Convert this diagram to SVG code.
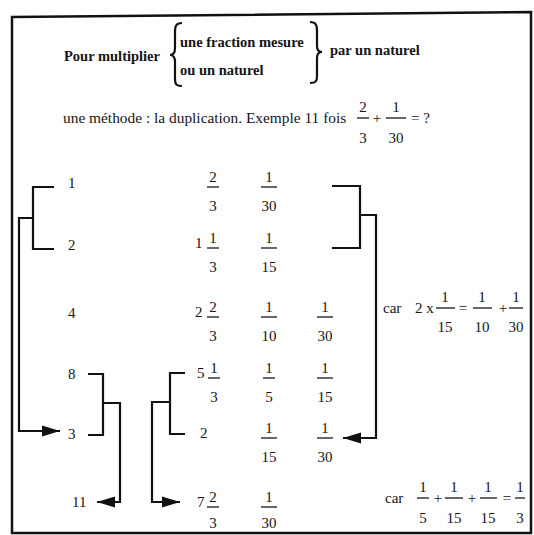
<svg xmlns="http://www.w3.org/2000/svg" width="534" height="535" viewBox="0 0 534 535">
<defs>
<style>
text{font-family:"Liberation Serif","Times New Roman",serif;fill:#151515}
.t{font-size:15px}
.b{font-size:14.5px;font-weight:bold}
.m{font-size:15px;text-anchor:middle}
.bar{stroke:#151515;stroke-width:1.3}
.ln{stroke:#111;stroke-width:2.2;fill:none}
.fr{stroke:#111;stroke-width:2.5;fill:none}
</style>
<marker id="ah" markerUnits="userSpaceOnUse" markerWidth="18" markerHeight="12" refX="18" refY="6" orient="auto">
<path d="M0,0.5 L18,6 L0,11.5 Z" fill="#111"/>
</marker>
</defs>
<rect width="534" height="535" fill="#fff"/>
<path class="fr" d="M12,17 L531,12 L531,533 L12,533 Z"/>

<g id="title">
<text class="b" x="64" y="61">Pour multiplier</text>
<path class="ln" stroke-width="1.8" d="M182,23 C176,23 175,26 175,32 L175,48 C175,53 173,55 170,55 C173,55 175,57 175,62 L175,79 C175,84 176,86 182,86"/>
<text class="b" x="180" y="47">une fraction mesure</text>
<text class="b" x="180" y="75">ou un naturel</text>
<path class="ln" stroke-width="1.8" d="M310,22 C316,22 317,25 317,31 L317,46 C317,50 319,52 322,52 C319,52 317,54 317,58 L317,76 C317,81 316,83 310,83"/>
<text class="b" x="330" y="55">par un naturel</text>
</g>

<g id="line2">
<text class="t" x="63" y="123" style="font-size:15.4px">une méthode : la duplication. Exemple 11 fois</text>
<text class="m" x="363" y="112">2</text><line class="bar" x1="357" y1="118" x2="369" y2="118"/><text class="m" x="363" y="143">3</text>
<text class="m" x="377" y="123">+</text>
<text class="m" x="396" y="112">1</text><line class="bar" x1="386" y1="118" x2="406" y2="118"/><text class="m" x="396" y="143">30</text>
<text class="t" x="411" y="123">= ?</text>
</g>

<g id="labels">
<text class="t" x="68" y="188">1</text>
<text class="t" x="68" y="250">2</text>
<text class="t" x="68" y="318">4</text>
<text class="t" x="68" y="379">8</text>
<text class="t" x="68" y="439">3</text>
<text class="t" x="72" y="507">11</text>
</g>

<g id="row1">
<text class="m" x="213" y="182">2</text><line class="bar" x1="207" y1="187" x2="219" y2="187"/><text class="m" x="213" y="211">3</text>
<text class="m" x="269" y="182">1</text><line class="bar" x1="261" y1="187" x2="277" y2="187"/><text class="m" x="269" y="211">30</text>
</g>
<g id="row2">
<text class="t" x="195" y="248">1</text>
<text class="m" x="213" y="243">1</text><line class="bar" x1="207" y1="248" x2="219" y2="248"/><text class="m" x="213" y="272">3</text>
<text class="m" x="269" y="243">1</text><line class="bar" x1="261" y1="248" x2="277" y2="248"/><text class="m" x="269" y="272">15</text>
</g>
<g id="row3">
<text class="t" x="195" y="317">2</text>
<text class="m" x="213" y="312">2</text><line class="bar" x1="207" y1="317" x2="219" y2="317"/><text class="m" x="213" y="341">3</text>
<text class="m" x="269" y="312">1</text><line class="bar" x1="261" y1="317" x2="277" y2="317"/><text class="m" x="269" y="341">10</text>
<text class="m" x="325" y="312">1</text><line class="bar" x1="317" y1="317" x2="333" y2="317"/><text class="m" x="325" y="341">30</text>
</g>
<g id="row4">
<text class="t" x="197" y="378">5</text>
<text class="m" x="214" y="373">1</text><line class="bar" x1="208" y1="378" x2="220" y2="378"/><text class="m" x="214" y="402">3</text>
<text class="m" x="269" y="373">1</text><line class="bar" x1="263" y1="378" x2="275" y2="378"/><text class="m" x="269" y="402">5</text>
<text class="m" x="325" y="373">1</text><line class="bar" x1="317" y1="378" x2="333" y2="378"/><text class="m" x="325" y="402">15</text>
</g>
<g id="row5">
<text class="t" x="200" y="438">2</text>
<text class="m" x="269" y="433">1</text><line class="bar" x1="261" y1="438" x2="277" y2="438"/><text class="m" x="269" y="462">15</text>
<text class="m" x="325" y="433">1</text><line class="bar" x1="317" y1="438" x2="333" y2="438"/><text class="m" x="325" y="462">30</text>
</g>
<g id="row6">
<text class="t" x="197" y="507">7</text>
<text class="m" x="213" y="502">2</text><line class="bar" x1="207" y1="507" x2="219" y2="507"/><text class="m" x="213" y="528">3</text>
<text class="m" x="269" y="502">1</text><line class="bar" x1="261" y1="507" x2="277" y2="507"/><text class="m" x="269" y="528">30</text>
</g>

<g id="car1">
<text class="t" x="383" y="313">car</text>
<text class="t" x="415" y="313">2 x</text>
<text class="m" x="445" y="302">1</text><line class="bar" x1="436" y1="308" x2="455" y2="308"/><text class="m" x="445" y="332">15</text>
<text class="m" x="463" y="313">=</text>
<text class="m" x="482" y="302">1</text><line class="bar" x1="473" y1="308" x2="492" y2="308"/><text class="m" x="482" y="332">10</text>
<text class="m" x="503" y="313">+</text>
<text class="m" x="516" y="302">1</text><line class="bar" x1="509" y1="308" x2="523" y2="308"/><text class="m" x="516" y="332">30</text>
</g>
<g id="car2">
<text class="t" x="385" y="503">car</text>
<text class="m" x="423" y="492">1</text><line class="bar" x1="417" y1="498" x2="429" y2="498"/><text class="m" x="423" y="523">5</text>
<text class="m" x="438" y="503">+</text>
<text class="m" x="454" y="492">1</text><line class="bar" x1="445" y1="498" x2="463" y2="498"/><text class="m" x="454" y="523">15</text>
<text class="m" x="472" y="503">+</text>
<text class="m" x="488" y="492">1</text><line class="bar" x1="480" y1="498" x2="497" y2="498"/><text class="m" x="488" y="523">15</text>
<text class="m" x="507" y="503">=</text>
<text class="m" x="520" y="492">1</text><line class="bar" x1="515" y1="498" x2="525" y2="498"/><text class="m" x="520" y="523">3</text>
</g>

<g id="connectors">
<path class="ln" d="M54,187 H33 V249 H54"/>
<path class="ln" d="M33,218 H19 V431 H60" marker-end="url(#ah)"/>
<path class="ln" d="M88,374 H103 V435 H88"/>
<path class="ln" d="M103,403 H120 V502 H97" marker-end="url(#ah)"/>
<path class="ln" d="M185,373 H170 V434 H185"/>
<path class="ln" d="M170,402 H152 V502 H180" marker-end="url(#ah)"/>
<path class="ln" d="M332,186 H360 V248 H332"/>
<path class="ln" d="M360,215 H376 V438 H343" marker-end="url(#ah)"/>
</g>
</svg>
